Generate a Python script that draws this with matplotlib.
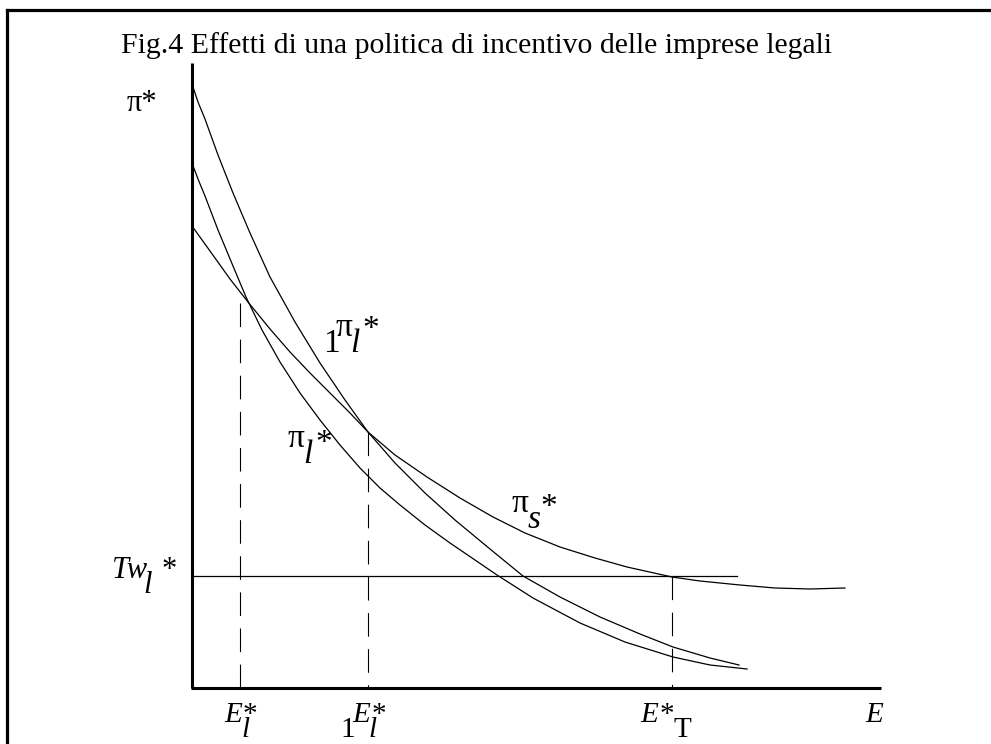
"""Fig.4 - effetti di una politica di incentivo delle imprese legali.
Diagramma economico: curve dei profitti attesi vs numero di imprese E.
"""

import matplotlib
matplotlib.use("Agg")
import matplotlib.pyplot as plt
from matplotlib.lines import Line2D
from matplotlib.transforms import offset_copy

plt.rcParams["lines.scale_dashes"] = False

# ---------- Data (E on x, pi* on y) ----------
# 1pi_l* : profitti legali dopo l'incentivo
E_1PIL = [0.00, 0.06, 0.13, 0.26, 0.41, 0.58, 0.78, 1.03, 1.28, 1.53, 1.76, 2.03,
          2.33, 2.63, 2.98, 3.31, 3.68, 4.08, 4.48, 4.81, 5.18, 5.47]
P_1PIL = [6.04, 5.86, 5.69, 5.33, 4.95, 4.55, 4.11, 3.66, 3.25, 2.88, 2.56, 2.25,
          1.95, 1.68, 1.39, 1.12, 0.91, 0.71, 0.54, 0.41, 0.30, 0.23]

# pi_l* : profitti legali
E_PIL = [0.00, 0.06, 0.13, 0.26, 0.41, 0.54, 0.70, 0.88, 1.08, 1.28, 1.48, 1.68, 1.88,
         2.08, 2.33, 2.58, 2.83, 3.05, 3.41, 3.88, 4.33, 4.81, 5.18, 5.55]
P_PIL = [5.25, 5.09, 4.92, 4.58, 4.22, 3.91, 3.58, 3.26, 2.95, 2.68, 2.43, 2.20, 2.00,
         1.83, 1.63, 1.45, 1.28, 1.13, 0.90, 0.65, 0.46, 0.31, 0.23, 0.19]

# pi_s* : profitti sommersi
E_PIS = [0.00, 0.18, 0.38, 0.56, 0.78, 0.98, 1.18, 1.38, 1.58, 1.76, 2.03, 2.35,
         2.68, 3.01, 3.33, 3.68, 4.03, 4.35, 4.80, 5.08, 5.48, 5.83, 6.18, 6.53]
P_PIS = [4.62, 4.37, 4.09, 3.86, 3.59, 3.36, 3.15, 2.95, 2.75, 2.56, 2.33, 2.11,
         1.90, 1.71, 1.55, 1.41, 1.30, 1.21, 1.11, 1.07, 1.03, 1.00, 0.99, 1.00]

TW_LEVEL = 1.12          # Tw_l*
TW_END = 5.45
E_STAR = [0.48, 1.76, 4.80]        # E_l*, 1E_l*, E*_T
E_STAR_TOP = [3.85, 2.56, 1.12]
AX_TOP = 6.25
AX_RIGHT = 6.89

TITLE = "Fig.4 Effetti di una politica di incentivo delle imprese legali"
SERIF = "Liberation Serif"

# ---------- Figure ----------
fig = plt.figure(figsize=(9.91, 7.44), dpi=100)
ax = fig.add_axes([0, 0, 1, 1])
ax.set_xlim(-1.92, 7.99)
ax.set_ylim(-0.56, 6.88)
ax.axis("off")

# frame (top + left only)
fig.add_artist(Line2D([7 / 991, 989 / 991], [1 - 10 / 744] * 2,
                      color="black", lw=2.3, transform=fig.transFigure))
fig.add_artist(Line2D([7 / 991] * 2, [1 - 10 / 744, 0],
                      color="black", lw=2.3, transform=fig.transFigure))

# axes
ax.plot([0, 0], [0, AX_TOP], color="black", lw=2.2, solid_capstyle="butt")
ax.plot([-0.01, AX_RIGHT], [0, 0], color="black", lw=2.2, solid_capstyle="butt")

# curves
for xs, ys in [(E_1PIL, P_1PIL), (E_PIL, P_PIL), (E_PIS, P_PIS)]:
    ax.plot(xs, ys, color="black", lw=0.9)
ax.plot([0, TW_END], [TW_LEVEL, TW_LEVEL], color="black", lw=0.9)

for e, top in zip(E_STAR, E_STAR_TOP):
    ax.plot([e, e], [top, 0], color="black", lw=0.8, dashes=(17, 9))


# ---------- Labels ----------
def put(x, y, pieces, size):
    for txt, dx, dy, it in pieces:
        tr = offset_copy(ax.transData, fig=fig, x=dx, y=-dy, units="dots")
        ax.text(x, y, txt, transform=tr, fontsize=size, family=SERIF,
                style="italic" if it else "normal", ha="left", va="baseline")


ax.text(2.845, 6.35, TITLE, fontsize=21.4, family=SERIF, ha="center", va="baseline")

put(-0.65, 5.77, [("π*", 0, 0, False)], 22)
put(-0.80, 1.10, [("Tw", 0, 0, True), ("l", 31, 15, True), ("*", 50, 0, False)], 22)
put(0.32, -0.34, [("E", 0, 0, True), ("*", 19, 0, False), ("l", 17, 15, True)], 21)
put(1.60, -0.34, [("1", -12, 15, False), ("E", 0, 0, True),
                  ("*", 20, 0, False), ("l", 16, 15, True)], 21)
put(4.48, -0.34, [("E", 0, 0, True), ("*", 20, 0, False), ("T", 33, 15, False)], 21)
put(6.73, -0.34, [("E", 0, 0, True)], 21)

put(1.43, 3.52, [("1", -12, 16, False), ("π", 0, 0, False),
                 ("l", 15, 16, True), ("*", 27, 2, False)], 24)
put(0.96, 2.41, [("π", 0, 0, False), ("l", 15, 16, True), ("*", 27, 5, False)], 24)
put(3.20, 1.76, [("π", 0, 0, False), ("s", 16, 16, True), ("*", 28, 4, False)], 24)

fig.savefig("out.png", dpi=100)
